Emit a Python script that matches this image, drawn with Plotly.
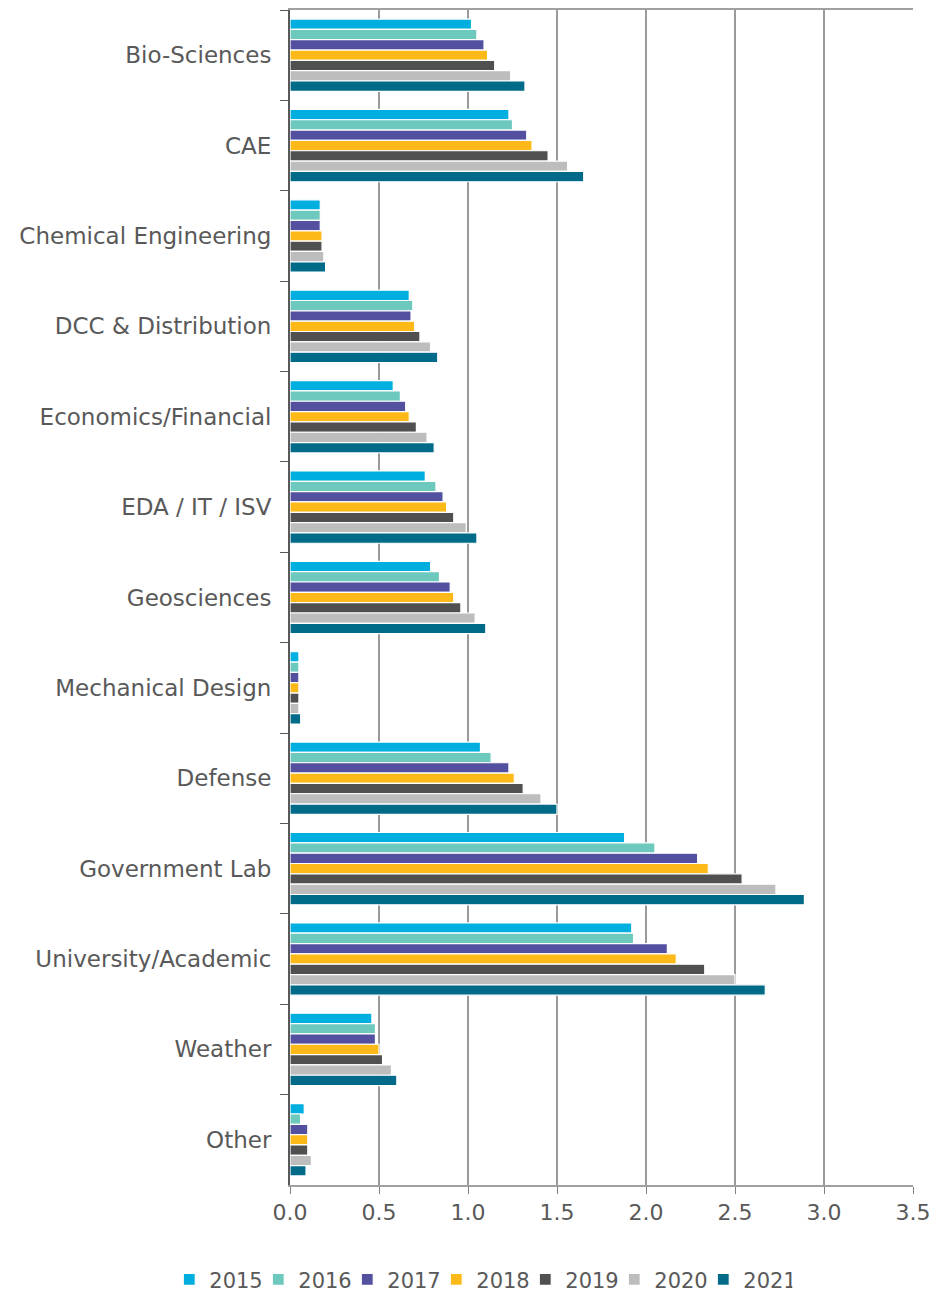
import plotly.graph_objects as go

categories = ["Bio-Sciences", "CAE", "Chemical Engineering", "DCC & Distribution",
              "Economics/Financial", "EDA / IT / ISV", "Geosciences", "Mechanical Design",
              "Defense", "Government Lab", "University/Academic", "Weather", "Other"]

years = ["2015", "2016", "2017", "2018", "2019", "2020", "2021"]

v2015 = [1.02, 1.23, 0.17, 0.67, 0.58, 0.76, 0.79, 0.05, 1.07, 1.88, 1.92, 0.46, 0.08]
v2016 = [1.05, 1.25, 0.17, 0.69, 0.62, 0.82, 0.84, 0.05, 1.13, 2.05, 1.93, 0.48, 0.06]
v2017 = [1.09, 1.33, 0.17, 0.68, 0.65, 0.86, 0.90, 0.05, 1.23, 2.29, 2.12, 0.48, 0.10]
v2018 = [1.11, 1.36, 0.18, 0.70, 0.67, 0.88, 0.92, 0.05, 1.26, 2.35, 2.17, 0.50, 0.10]
v2019 = [1.15, 1.45, 0.18, 0.73, 0.71, 0.92, 0.96, 0.05, 1.31, 2.54, 2.33, 0.52, 0.10]
v2020 = [1.24, 1.56, 0.19, 0.79, 0.77, 0.99, 1.04, 0.05, 1.41, 2.73, 2.50, 0.57, 0.12]
v2021 = [1.32, 1.65, 0.20, 0.83, 0.81, 1.05, 1.10, 0.06, 1.50, 2.89, 2.67, 0.60, 0.09]

series = [v2015, v2016, v2017, v2018, v2019, v2020, v2021]
colors = ["#00AEDF", "#6DC9BE", "#5350A0", "#FDB918", "#505050", "#BDBDBD", "#006B88"]

fig = go.Figure()
for name, vals, col in zip(years, series, colors):
    fig.add_trace(go.Bar(
        y=categories, x=vals, name=name, orientation="h",
        marker=dict(color=col, line=dict(color="white", width=1.2)),
    ))

font_family = "DejaVu Sans"
fig.update_layout(
    width=939, height=1296,
    margin=dict(l=290, r=23, t=8, b=111),
    plot_bgcolor="white", paper_bgcolor="white",
    barmode="group", bargap=0.2, bargroupgap=0.0,
    font=dict(family=font_family, size=23, color="#595959"),
    legend=dict(orientation="h", xref="container", yref="container",
                x=0.512, xanchor="center", y=0.0125, yanchor="middle",
                font=dict(size=21, color="#595959"), traceorder="normal",
                itemwidth=30, entrywidth=44, entrywidthmode="pixels", tracegroupgap=0),
    xaxis=dict(range=[0, 3.5], dtick=0.5, tickformat=".1f",
               showgrid=True, gridcolor="#9a9a9a", gridwidth=1.5,
               showline=True, linecolor="#a0a0a0", linewidth=1.5, mirror=True,
               ticks="outside", ticklen=7, tickcolor="#808080",
               tickfont=dict(size=22, color="#595959"), zeroline=False),
    yaxis=dict(autorange="reversed", showline=True, linecolor="#595959", linewidth=2,
               ticks="outside", ticklen=8, tickcolor="#595959", tickson="boundaries",
               tickfont=dict(size=23, color="#595959"), ticklabelstandoff=12,
               showgrid=False),
)

fig.write_html("out.html")
